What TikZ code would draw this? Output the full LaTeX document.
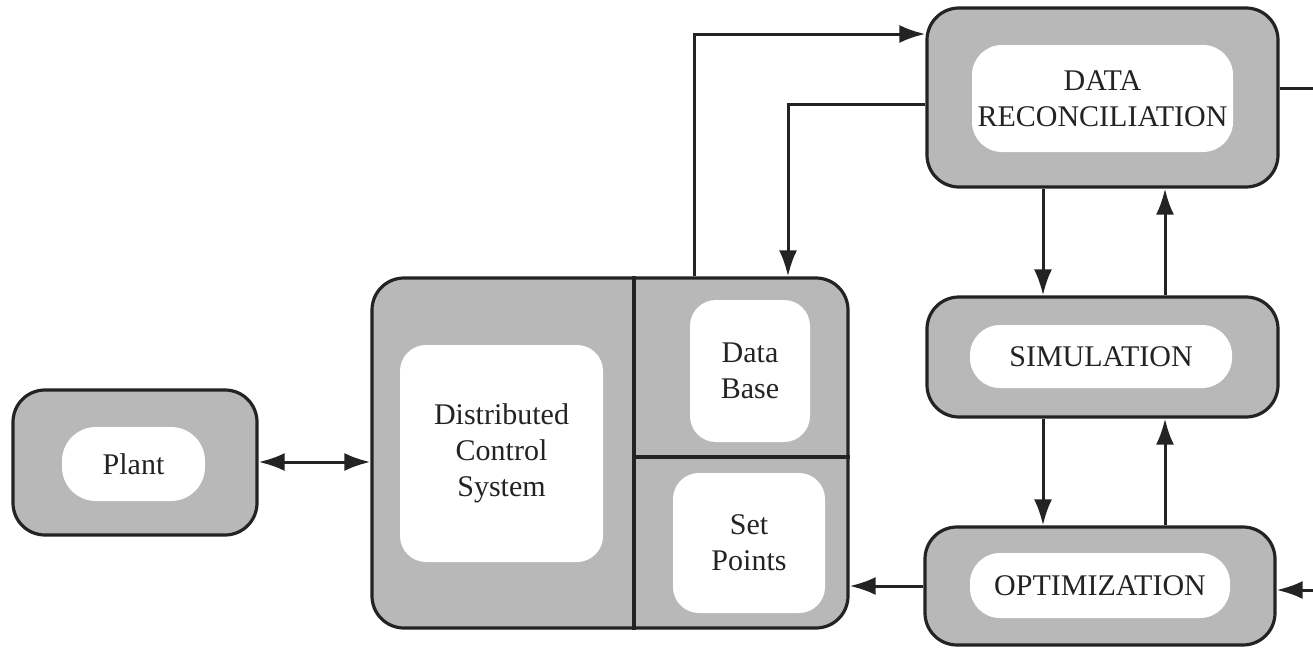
\documentclass[tikz,border=0pt]{standalone}
\usepackage{fontspec}
\setmainfont{Liberation Serif}
\usetikzlibrary{arrows.meta}
\definecolor{boxgray}{RGB}{184,184,184}
\definecolor{inkline}{RGB}{35,35,35}

\begin{document}
\begin{tikzpicture}[
	  x=0.5pt, y=-0.5pt,
	  outerbox/.style={rectangle, rounded corners=16pt, draw=inkline, line width=1.6pt, fill=boxgray, inner sep=0pt},
	  innerbox/.style={rectangle, rounded corners=13pt, fill=white, inner sep=0pt, text centered, align=center, text=inkline, font=\fontsize{15}{18}\selectfont},
	  divider/.style={draw=inkline, line width=1.6pt},
	  arrow/.style={draw=inkline, line width=1.5pt, ->, >={Latex[length=13pt, width=9pt]}},
	  link/.style={draw=inkline, line width=1.5pt}
	]
	\useasboundingbox (0,0) rectangle (1313,648);

	% blocks
	\node (plant) [outerbox, minimum width=122pt, minimum height=72.5pt] at (135,462.5) {};
	\node (plantlbl) [innerbox, rounded corners=17pt, minimum width=71.5pt, minimum height=37pt] at (133.5,464) {Plant};

	\node (dcs) [outerbox, minimum width=238pt, minimum height=175pt] at (610,453) {};
	\draw [divider] (634,0 |- dcs.north) -- (634,0 |- dcs.south);
	\draw [divider] (634,457) -- (dcs.east |- 0,457);
	\node (dcslbl) [innerbox, minimum width=101.5pt, minimum height=108.5pt] at (501.5,453.5) {Distributed\\Control\\System};
	\node (dbase) [innerbox, minimum width=60pt, minimum height=71pt] at (750,371) {Data\\Base};
	\node (setpts) [innerbox, minimum width=76pt, minimum height=70pt] at (749,543) {Set\\Points};

	\node (recon) [outerbox, minimum width=175.5pt, minimum height=89.5pt] at (1102.5,97.5) {};
	\node (reconlbl) [innerbox, rounded corners=15pt, minimum width=130.5pt, minimum height=53.5pt] at (1102.5,98.5) {DATA\\RECONCILIATION};

	\node (simul) [outerbox, minimum width=175.5pt, minimum height=60pt] at (1102.5,357) {};
	\node (simullbl) [innerbox, rounded corners=15pt, minimum width=131pt, minimum height=31.5pt] at (1101,356.5) {SIMULATION};

	\node (optim) [outerbox, minimum width=175pt, minimum height=59pt] at (1100,586) {};
	\node (optimlbl) [innerbox, rounded corners=15pt, minimum width=130pt, minimum height=32.5pt] at (1100,585.5) {OPTIMIZATION};

	% open ends at the right margin
	\coordinate (outrecon) at (1313,88);
	\coordinate (inoptim) at (1313,590);

	% connectors
	\draw [arrow, <->] (plant.east |- 0,462) -- (dcs.west |- 0,462);
	\draw [arrow] (694,0 |- dcs.north) |- (recon.west |- 0,34);
	\draw [arrow] (recon.west |- 0,104) -| (788,0 |- dcs.north);
	\draw [arrow] (1043,0 |- recon.south) -- (1043,0 |- simul.north);
	\draw [arrow] (1165,0 |- simul.north) -- (1165,0 |- recon.south);
	\draw [arrow] (1043,0 |- simul.south) -- (1043,0 |- optim.north);
	\draw [arrow] (1165,0 |- optim.north) -- (1165,0 |- simul.south);
	\draw [arrow] (optim.west) -- (optim.west -| dcs.east);
	\draw [link] (outrecon -| recon.east) -- (outrecon);
	\draw [arrow] (inoptim) -- (inoptim -| optim.east);

	\end{tikzpicture}
\end{document}
